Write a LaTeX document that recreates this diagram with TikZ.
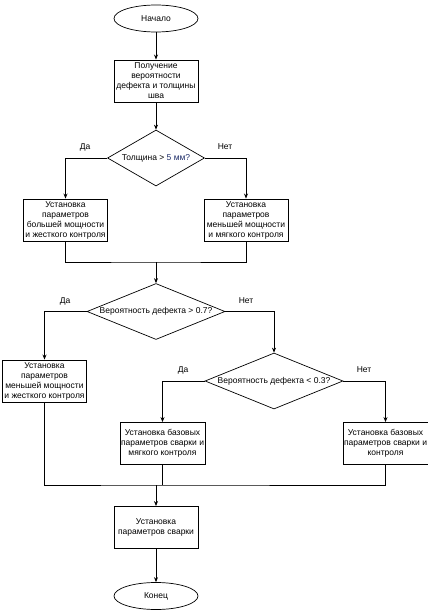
\documentclass[tikz,border=0pt]{standalone}
\usepackage{fontspec}
\setmainfont{Liberation Sans}
\usetikzlibrary{shapes.geometric,arrows.meta}
\definecolor{navy}{RGB}{30,45,105}
\begin{document}
\begin{tikzpicture}[x=1pt,y=-1pt,
    font=\fontsize{8.5}{10}\selectfont,
    >={Stealth[length=5pt,width=4pt]},
    line width=0.7pt,
    term/.style={draw,ellipse,minimum width=84pt,minimum height=27pt,inner sep=0pt},
    proc/.style={draw,rectangle,minimum width=84pt,minimum height=42pt,inner sep=1pt,align=center,line width=0.9pt},
    cond/.style={draw,diamond,aspect=2.4,inner sep=0pt,minimum height=56pt}]
\useasboundingbox (0,0) rectangle (428,610);
\node[term] (start) at (156,18.5) {Начало};
\node[proc] (get) at (156,81) {Получение\\вероятности\\дефекта и толщины\\шва};
\node[cond,minimum width=97pt,aspect=1.73] (d1) at (156,158) {Толщина > \textcolor{navy}{5 мм?}};
\node[proc] (l1) at (65.5,220) {Установка\\параметров\\большей мощности\\и жесткого контроля};
\node[proc] (r1) at (246,220) {Установка\\параметров\\меньшей мощности\\и мягкого контроля};
\node[cond,minimum width=138pt] (d2) at (156,311.5) {Вероятность дефекта > 0.7?};
\node[proc] (l2) at (44.5,381) {Установка\\параметров\\меньшей мощности\\и жесткого контроля};
\node[cond,minimum width=138pt] (d3) at (274,381) {Вероятность дефекта < 0.3?};
\node[proc] (mid) at (162.5,443.5) {Установка базовых\\параметров сварки и\\мягкого контроля};
\node[proc] (rgt) at (385.5,443.5) {Установка базовых\\параметров сварки и\\контроля};
\node[proc] (fin) at (156,527.5) {Установка\\параметров сварки};
\node[term] (end) at (156,596) {Конец};
\coordinate (m1) at (156,262);
\coordinate (m2) at (156,485);
% labels
\node (y1) at (85,147) {Да};
\node (n1) at (225,147) {Нет};
\node (y2) at (65,301) {Да};
\node (n2) at (246,301) {Нет};
\node (y3) at (183,370) {Да};
\node (n3) at (364,370) {Нет};
% connectors
\draw[->] (start) -- (get);
\draw[->] (get) -- (d1);
\draw[->] (d1.west) -| (l1.north);
\draw[->] (d1.east) -| (r1.north);
\draw (l1.south) |- (m1) -| (r1.south);
\draw[->] (m1) -- (d2.north);
\draw[->] (d2.west) -| (l2.north);
\draw[->] (d2.east) -| (d3.north);
\draw[->] (d3.west) -| (mid.north);
\draw[->] (d3.east) -| (rgt.north);
\draw (l2.south) |- (m2) -| (rgt.south);
\draw (mid.south) -- (mid.south |- m2);
\draw[->] (m2) -- (fin.north);
\draw[->] (fin) -- (end);
\end{tikzpicture}
\end{document}
